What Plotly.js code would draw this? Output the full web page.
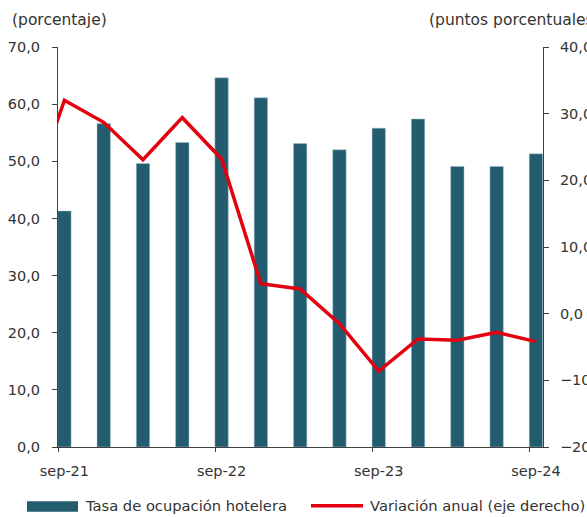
<!DOCTYPE html>
<html><head><meta charset="utf-8">
<script src="https://cdn.plot.ly/plotly-3.0.1.min.js"></script>
<style>html,body{margin:0;padding:0;background:#fff}#c{width:587px;height:517px}</style>
</head><body><div id="c"></div>
<script>
// Quarters (index 0 = sep-21)
var quarters = ["sep-21","dic-21","mar-22","jun-22","sep-22","dic-22","mar-23","jun-23","sep-23","dic-23","mar-24","jun-24","sep-24"];
var occupancy = [41.3, 56.6, 49.6, 53.3, 64.6, 61.1, 53.1, 52.0, 55.8, 57.4, 49.1, 49.1, 51.3];
// Annual variation (pp), includes jun-21 (index -1) which is partly cut off at the left edge
var variationQuarters = ["jun-21"].concat(quarters);
var variation = [15.0, 32.0, 28.7, 23.1, 29.4, 23.2, 4.5, 3.7, -1.5, -8.6, -3.8, -4.0, -2.8, -4.2];
var tickLabels = ["sep-21","sep-22","sep-23","sep-24"];
var tickIdx = [0, 4, 8, 12];

var xBar = quarters.map(function(_, i){ return i; });
var xLine = variationQuarters.map(function(_, i){ return i - 1; });

var font = "DejaVu Sans, sans-serif";
var txt = "#333333";
var xr = [-0.163, 12.18];

var traces = [
  {type:"bar", x:xBar, y:occupancy, name:"Tasa de ocupación hotelera", width:0.34,
   marker:{color:"#245c6f", line:{color:"#9fc0cc", width:0.5}}, yaxis:"y", xaxis:"x", showlegend:false,
   hovertext: quarters, hoverinfo:"text+y", textposition:"none"},
  {type:"scatter", mode:"lines", x:xLine, y:variation, name:"Variación anual (eje derecho)",
   line:{color:"#e3000f", width:3.5}, yaxis:"y2", xaxis:"x", showlegend:false,
   hovertext: variationQuarters, hoverinfo:"text+y"},
  {type:"scatter", x:[0], y:[0], xaxis:"x2", yaxis:"y", mode:"markers",
   marker:{opacity:0}, showlegend:false, hoverinfo:"skip"}
];

var layout = {
  width:587, height:517,
  margin:{l:58, r:44, t:47, b:70, pad:0},
  paper_bgcolor:"#ffffff", plot_bgcolor:"#ffffff",
  font:{family:font, size:14, color:txt},
  showlegend:false,
  bargap:0,
  xaxis:{range:xr, tickmode:"array", tickvals:tickIdx, ticktext:tickLabels,
    ticks:"", showgrid:false, zeroline:false, showline:true, linecolor:"#404040", linewidth:1,
    tickfont:{family:font, size:14.5, color:txt}, ticklabelstandoff:11, fixedrange:true},
  xaxis2:{range:xr, overlaying:"x", anchor:"y", side:"bottom", tickmode:"array",
    tickvals:tickIdx.map(function(v){return v-0.163;}), showticklabels:false,
    ticks:"outside", ticklen:4, tickcolor:"#404040", tickwidth:1, showgrid:false, zeroline:false, showline:false},
  yaxis:{range:[0,70], dtick:10, tickformat:".1f", ticks:"outside", ticklen:5, tickcolor:"#404040",
    showgrid:false, zeroline:false, showline:true, linecolor:"#404040", linewidth:1,
    tickfont:{family:font, size:14.5, color:txt}, ticklabelstandoff:9},
  yaxis2:{range:[-20,40], dtick:10, tickformat:".1f", overlaying:"y", side:"right", anchor:"x",
    ticks:"outside", ticklen:5, tickcolor:"#404040", showgrid:false, zeroline:false,
    showline:true, linecolor:"#404040", linewidth:1, tickfont:{family:font, size:14.5, color:txt},
    ticklabelstandoff:8},
  separators:", ",
  annotations:[
    {xref:"paper", yref:"paper", x:-0.099, y:1.068, xanchor:"left", yanchor:"middle",
     text:"(porcentaje)", showarrow:false, font:{family:font, size:15.5, color:txt}},
    {xref:"paper", yref:"paper", x:0.761, y:1.068, xanchor:"left", yanchor:"middle",
     text:"(puntos porcentuales)", showarrow:false, font:{family:font, size:15.5, color:txt}},
    {xref:"paper", yref:"paper", x:(83-58)/485, y:(447.3-506)/400, xanchor:"left", yanchor:"middle",
     text:"Tasa de ocupación hotelera", showarrow:false, font:{family:font, size:14.7, color:txt}},
    {xref:"paper", yref:"paper", x:(368-58)/485, y:(447.3-506)/400, xanchor:"left", yanchor:"middle",
     text:"Variación anual (eje derecho)", showarrow:false, font:{family:font, size:14.7, color:txt}}
  ],
  shapes:[
    {type:"rect", xref:"paper", yref:"paper", x0:(27-58)/485, x1:(78-58)/485,
     y0:(447.3-501.5)/400, y1:(447.3-512)/400, fillcolor:"#245c6f", line:{width:0}},
    {type:"line", xref:"paper", yref:"paper", x0:(311-58)/485, x1:(363-58)/485,
     y0:(447.3-506)/400, y1:(447.3-506)/400, line:{color:"#e3000f", width:3.5}}
  ]
};
Plotly.newPlot("c", traces, layout, {staticPlot:true, displayModeBar:false});
</script></body></html>
